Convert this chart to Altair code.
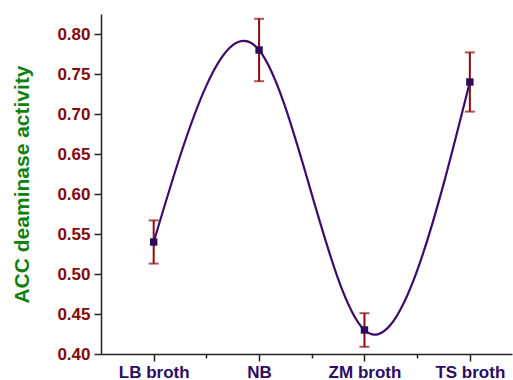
import altair as alt
import numpy as np
import pandas as pd

# Growth media and measured ACC deaminase activity (mean ± SD)
media = ["LB broth", "NB", "ZM broth", "TS broth"]
activity = [0.54, 0.78, 0.43, 0.74]
error = [0.027, 0.039, 0.021, 0.037]

df = pd.DataFrame({
    "medium": media,
    "pos": list(range(1, len(media) + 1)),
    "activity": activity,
    "err": error,
})
df["lo"] = df["activity"] - df["err"]
df["hi"] = df["activity"] + df["err"]

LINE = "#3b0c6e"
MARK = "#2c0a5e"
ERR = "#8b0a0a"
YLAB = "#850808"
XLAB = "#2e0c62"
TITLE = "#0f800f"
AXIS = "#222222"
FONT = "Liberation Sans"

names_js = "[" + ",".join("'" + m + "'" for m in media) + "]"

x_ticks = [1, 1.5, 2, 2.5, 3, 3.5, 4]
y_ticks = [round(v, 3) for v in np.arange(0.40, 0.8251, 0.025)]

x_axis = alt.Axis(
    values=x_ticks,
    labelExpr=f"datum.value % 1 ? '' : {names_js}[datum.value - 1]",
    title=None,
    grid=False,
    domainColor=AXIS,
    domainWidth=1.5,
    tickColor=AXIS,
    tickWidth=1.5,
    tickSize={"condition": {"test": "datum.value % 1", "value": 4}, "value": 7},
    labelFont=FONT,
    labelFontSize=17,
    labelFontWeight="bold",
    labelColor=XLAB,
    labelPadding=3,
    labelFlush=False,
)

y_axis = alt.Axis(
    values=y_ticks,
    labelExpr="round(datum.value * 40) % 2 ? '' : format(datum.value, '.2f')",
    title="ACC deaminase activity",
    grid=False,
    domainColor=AXIS,
    domainWidth=1.5,
    tickColor=AXIS,
    tickWidth=1.5,
    tickSize={"condition": {"test": "round(datum.value * 40) % 2", "value": 4}, "value": 7},
    labelFont=FONT,
    labelFontSize=17,
    labelFontWeight="bold",
    labelColor=YLAB,
    labelPadding=4,
    labelFlush=False,
    titleFont=FONT,
    titleFontSize=21,
    titleFontWeight="bold",
    titleColor=TITLE,
    titlePadding=24,
)

x_enc = alt.X("pos:Q", scale=alt.Scale(domain=[0.5, 4.4], nice=False, zero=False), axis=x_axis)
y_scale = alt.Scale(domain=[0.40, 0.825], nice=False, zero=False)
y_enc = alt.Y("activity:Q", scale=y_scale, axis=y_axis)

base = alt.Chart(df)

bars = base.mark_rule(color=ERR, strokeWidth=2).encode(
    x=x_enc, y=alt.Y("lo:Q", scale=y_scale), y2="hi:Q"
)
cap_lo = base.mark_tick(color=ERR, size=10, thickness=2, orient="horizontal").encode(
    x="pos:Q", y=alt.Y("lo:Q", scale=y_scale)
)
cap_hi = base.mark_tick(color=ERR, size=10, thickness=2, orient="horizontal").encode(
    x="pos:Q", y=alt.Y("hi:Q", scale=y_scale)
)
curve = base.mark_line(color=LINE, strokeWidth=2.2, interpolate="natural").encode(
    x=x_enc, y=y_enc
)
points = base.mark_square(color=MARK, size=55, opacity=1).encode(
    x="pos:Q", y=alt.Y("activity:Q", scale=y_scale)
)

chart = (
    alt.layer(bars, cap_lo, cap_hi, curve, points)
    .properties(
        width=411,
        height=340,
        padding={"left": 101, "top": 14, "right": 1, "bottom": 26},
        autosize="none",
        background="white",
    )
    .configure_view(stroke=None)
)

chart.save("out.html", embed_options={"renderer": "svg", "actions": False})
